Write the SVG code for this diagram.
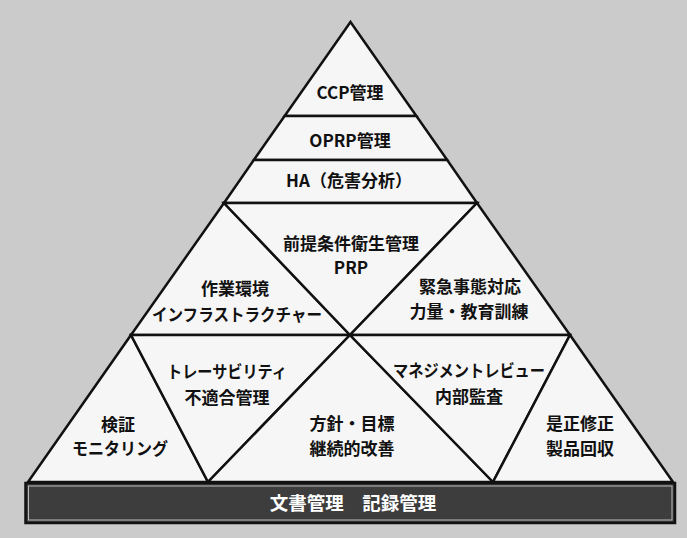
<svg xmlns="http://www.w3.org/2000/svg" width="687" height="538" viewBox="0 0 687 538">
  <style>
    .cell { fill: #f6f6f6; stroke: #111; stroke-width: 2.5; stroke-linejoin: miter; }
    .lbl { font-family: "Noto Sans CJK JP", "Noto Sans", sans-serif; font-weight: 700; font-size: 17px; fill: #111; text-anchor: middle; }
    .bar { fill: #3d3d3d; stroke: #111; stroke-width: 2.5; }
    .barin { fill: none; stroke: #bdbdbd; stroke-width: 1; }
    .barlbl { font-family: "Noto Sans CJK JP", "Noto Sans", sans-serif; font-weight: 700; font-size: 18.5px; fill: #fff; text-anchor: middle; }
  </style>
  <rect x="0" y="0" width="687" height="538" fill="#cbcbcb"/>

  <g id="ccp">
    <polygon class="cell" points="350.5,22 416.4,116 284.6,116"/>
    <text class="lbl" x="350" y="98.5">CCP管理</text>
  </g>
  <g id="oprp">
    <polygon class="cell" points="284.6,116 416.4,116 447.2,160 253.8,160"/>
    <text class="lbl" x="350" y="146.5">OPRP管理</text>
  </g>
  <g id="ha">
    <polygon class="cell" points="253.8,160 447.2,160 477,203 224,203"/>
    <text class="lbl" x="349" y="186.5">HA（危害分析）</text>
  </g>
  <g id="infra">
    <polygon class="cell" points="224,203 350,335 131,335"/>
    <text class="lbl" x="235" y="295">作業環境</text>
    <text class="lbl" x="237" y="320.5" textLength="170" lengthAdjust="spacingAndGlyphs">インフラストラクチャー</text>
  </g>
  <g id="prp">
    <polygon class="cell" points="224,203 477,203 350,335"/>
    <text class="lbl" x="351" y="249.5">前提条件衛生管理</text>
    <text class="lbl" x="351" y="273.5">PRP</text>
  </g>
  <g id="emergency">
    <polygon class="cell" points="477,203 570,335 350,335"/>
    <text class="lbl" x="470" y="293">緊急事態対応</text>
    <text class="lbl" x="469" y="318">力量・教育訓練</text>
  </g>
  <g id="verify">
    <polygon class="cell" points="131,335 208,482 28,482"/>
    <text class="lbl" x="118" y="431">検証</text>
    <text class="lbl" x="120" y="455" textLength="96" lengthAdjust="spacingAndGlyphs">モニタリング</text>
  </g>
  <g id="trace">
    <polygon class="cell" points="131,335 350,335 208,482"/>
    <text class="lbl" x="227" y="377.5" textLength="120" lengthAdjust="spacingAndGlyphs">トレーサビリティ</text>
    <text class="lbl" x="227" y="403.5">不適合管理</text>
  </g>
  <g id="policy">
    <polygon class="cell" points="350,335 493,482 208,482"/>
    <text class="lbl" x="352" y="430">方針・目標</text>
    <text class="lbl" x="352" y="455">継続的改善</text>
  </g>
  <g id="review">
    <polygon class="cell" points="350,335 570,335 493,482"/>
    <text class="lbl" x="469" y="376.5" textLength="152" lengthAdjust="spacingAndGlyphs">マネジメントレビュー</text>
    <text class="lbl" x="469" y="402.5">内部監査</text>
  </g>
  <g id="corrective">
    <polygon class="cell" points="570,335 673,482 493,482"/>
    <text class="lbl" x="580" y="430">是正修正</text>
    <text class="lbl" x="580" y="454.5">製品回収</text>
  </g>
  <g id="base">
    <rect class="bar" x="25.5" y="483" width="649.5" height="40"/>
    <rect class="barin" x="28.5" y="486" width="643.5" height="34"/>
    <text class="barlbl" x="353" y="510">文書管理　記録管理</text>
  </g>
  <g id="connectors"></g>
</svg>
